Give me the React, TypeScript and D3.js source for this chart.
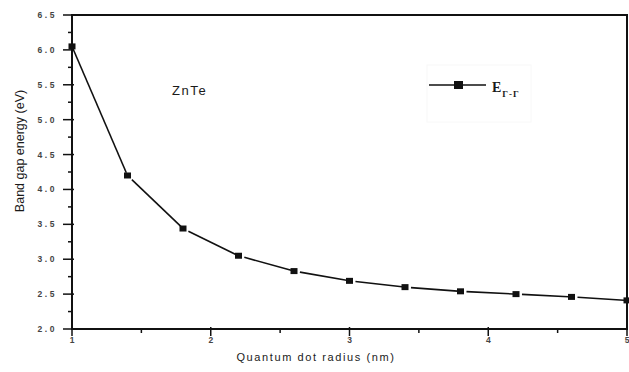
import { useRef, useEffect } from "react";
import * as d3 from "d3";

// quantum dot radius (nm) and band gap energy (eV)
const radius = [1.0, 1.4, 1.8, 2.2, 2.6, 3.0, 3.4, 3.8, 4.2, 4.6, 5.0];
const energy = [6.05, 4.2, 3.44, 3.05, 2.83, 2.69, 2.6, 2.54, 2.5, 2.46, 2.41];
const xTicks = [1, 2, 3, 4, 5];
const yTicks = [2.0, 2.5, 3.0, 3.5, 4.0, 4.5, 5.0, 5.5, 6.0, 6.5];

const W = 629;
const H = 372;

const App = () => {
  const svgRef = useRef<SVGSVGElement>(null);

  useEffect(() => {
    const svg = d3.select(svgRef.current);
    svg.selectAll("*").remove();

    const x = d3.scaleLinear().domain([1, 5]).range([72, 627]);
    const y = d3.scaleLinear().domain([2, 6.5]).range([329, 15]);
    const ink = "#111";

    const xMinor = d3.range(1.5, 5, 1);
    const yMinor = d3.range(2.25, 6.5, 0.5);

    // frame
    svg
      .append("rect")
      .attr("x", x(1))
      .attr("y", y(6.5))
      .attr("width", x(5) - x(1))
      .attr("height", y(2) - y(6.5))
      .attr("fill", "none")
      .attr("stroke", ink)
      .attr("stroke-width", 2);

    // y ticks
    const yAx = svg.append("g");
    yAx
      .selectAll("line.maj")
      .data(yTicks)
      .join("line")
      .attr("x1", x(1) - 9)
      .attr("x2", x(1) + 2)
      .attr("y1", (d) => y(d))
      .attr("y2", (d) => y(d))
      .attr("stroke", ink)
      .attr("stroke-width", 1.5);
    yAx
      .selectAll("line.min")
      .data(yMinor)
      .enter()
      .append("line")
      .attr("x1", x(1) - 4)
      .attr("x2", x(1))
      .attr("y1", (d) => y(d))
      .attr("y2", (d) => y(d))
      .attr("stroke", ink)
      .attr("stroke-width", 1.5);
    yAx
      .selectAll("text")
      .data(yTicks)
      .join("text")
      .attr("x", x(1) - 15)
      .attr("y", (d) => y(d) + 3)
      .attr("text-anchor", "end")
      .attr("font-family", "Liberation Sans, Arial, sans-serif")
      .attr("font-size", 8.5)
      .attr("font-weight", "bold")
      .attr("letter-spacing", 2.6)
      .attr("fill", "#444")
      .text((d) => d.toFixed(1));

    // x ticks
    const xAx = svg.append("g");
    xAx
      .selectAll("line.maj")
      .data(xTicks)
      .join("line")
      .attr("x1", (d) => x(d))
      .attr("x2", (d) => x(d))
      .attr("y1", y(2) - 2)
      .attr("y2", y(2) + 7)
      .attr("stroke", ink)
      .attr("stroke-width", 1.5);
    xAx
      .selectAll("line.min")
      .data(xMinor)
      .enter()
      .append("line")
      .attr("x1", (d) => x(d))
      .attr("x2", (d) => x(d))
      .attr("y1", y(2))
      .attr("y2", y(2) + 4)
      .attr("stroke", ink)
      .attr("stroke-width", 1.5);
    xAx
      .selectAll("text")
      .data(xTicks)
      .join("text")
      .attr("x", (d) => x(d))
      .attr("y", y(2) + 14)
      .attr("text-anchor", "middle")
      .attr("font-family", "Liberation Sans, Arial, sans-serif")
      .attr("font-size", 8.5)
      .attr("font-weight", "bold")
      .attr("fill", "#444")
      .text((d) => d);

    // axis titles
    svg
      .append("text")
      .attr("x", 316)
      .attr("y", 361)
      .attr("text-anchor", "middle")
      .attr("font-family", "Liberation Sans, Arial, sans-serif")
      .attr("font-size", 11)
      .attr("letter-spacing", 1.6)
      .attr("fill", "#1a1a1a")
      .text("Quantum dot radius (nm)");

    svg
      .append("text")
      .attr("transform", `translate(24, 151) rotate(-90)`)
      .attr("text-anchor", "middle")
      .attr("font-family", "Liberation Sans, Arial, sans-serif")
      .attr("font-size", 12.5)
      .attr("fill", "#1a1a1a")
      .text("Band gap energy (eV)");

    // series line, with small gaps around the markers
    const pts = radius.map((r, i) => [x(r), y(energy[i])] as [number, number]);
    const segs = pts.slice(1).map((p, i) => {
      const a = pts[i];
      const dx = p[0] - a[0];
      const dy = p[1] - a[1];
      const len = Math.hypot(dx, dy);
      const s = i === 0 ? 2 : 6;
      return [
        a[0] + (dx / len) * s,
        a[1] + (dy / len) * s,
        p[0] - (dx / len) * 3,
        p[1] - (dy / len) * 3,
      ];
    });
    svg
      .append("g")
      .selectAll("line")
      .data(segs)
      .join("line")
      .attr("x1", (d) => d[0])
      .attr("y1", (d) => d[1])
      .attr("x2", (d) => d[2])
      .attr("y2", (d) => d[3])
      .attr("stroke", ink)
      .attr("stroke-width", 1.6);

    svg
      .append("g")
      .selectAll("rect")
      .data(pts)
      .join("rect")
      .attr("x", (d) => d[0] - 3.5)
      .attr("y", (d) => d[1] - 3)
      .attr("width", 7)
      .attr("height", 6)
      .attr("fill", ink);

    // label
    svg
      .append("text")
      .attr("x", 172)
      .attr("y", 95)
      .attr("font-family", "Liberation Sans, Arial, sans-serif")
      .attr("font-size", 13)
      .attr("letter-spacing", 1.6)
      .attr("fill", "#1a1a1a")
      .text("ZnTe");

    // legend
    const lg = svg.append("g");
    lg.append("rect")
      .attr("x", 427)
      .attr("y", 65)
      .attr("width", 104)
      .attr("height", 57)
      .attr("fill", "none")
      .attr("stroke", "#f8f8f8");
    lg.append("line")
      .attr("x1", 429)
      .attr("x2", 486)
      .attr("y1", 85)
      .attr("y2", 85)
      .attr("stroke", ink)
      .attr("stroke-width", 1.6);
    lg.append("rect")
      .attr("x", 454)
      .attr("y", 81)
      .attr("width", 9)
      .attr("height", 8)
      .attr("fill", ink);
    const lt = lg
      .append("text")
      .attr("x", 492)
      .attr("y", 92)
      .attr("font-family", "Liberation Serif, Times New Roman, serif")
      .attr("font-weight", "bold")
      .attr("fill", "#1a1a1a");
    lt.append("tspan").attr("font-size", 14).text("E");
    lt.append("tspan")
      .attr("font-size", 9)
      .attr("dy", 5)
      .attr("dx", 1)
      .attr("letter-spacing", 1)
      .text("Γ-Γ");
  }, []);

  return (
    <svg
      ref={svgRef}
      width={W}
      height={H}
      style={{ position: "absolute", left: 0, top: 0, background: "#fff" }}
    />
  );
};

export default App;
